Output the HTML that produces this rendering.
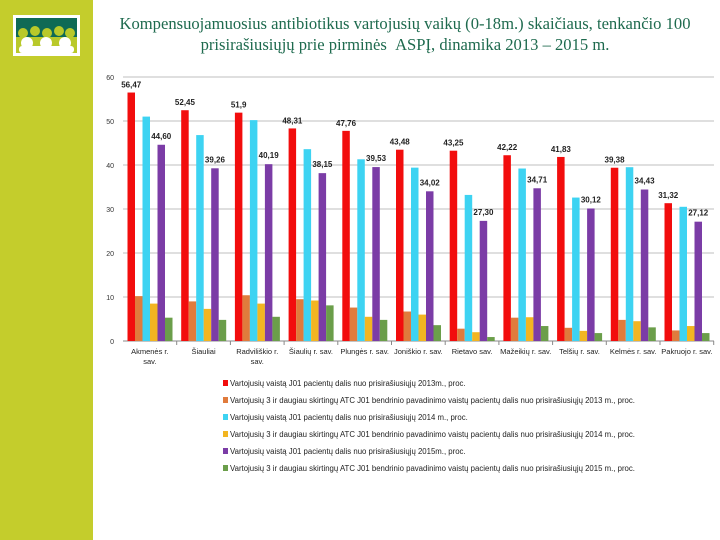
<!DOCTYPE html>
<html><head><meta charset="utf-8"><style>
body{margin:0;width:720px;height:540px;background:#fff;position:relative;overflow:hidden;font-family:"Liberation Sans",sans-serif}
#strip{position:absolute;left:0;top:0;width:93px;height:540px;background:#c4cd2c}
#logo{position:absolute;left:13px;top:15px;width:67px;height:41px;background:#fff}
#title{position:absolute;left:95px;top:13px;width:620px;text-align:center;font-family:"Liberation Serif",serif;font-size:16.6px;line-height:21px;color:#1e6a4e;white-space:nowrap}
</style></head><body>
<div id="strip"></div>
<div id="logo">
<svg width="67" height="41">
<rect x="3" y="3" width="61" height="35" fill="#0f6a55"/>
<g fill="#b9c92a"><circle cx="10" cy="18" r="5"/><circle cx="22" cy="16" r="5"/><circle cx="34" cy="18" r="5"/><circle cx="46" cy="16" r="5"/><circle cx="57" cy="18" r="5"/><rect x="3" y="22" width="61" height="16"/></g>
<g fill="#fff"><circle cx="14" cy="28" r="6"/><circle cx="33" cy="28" r="6"/><circle cx="52" cy="28" r="6"/><rect x="6" y="31" width="55" height="7" rx="3"/></g>
</svg></div>
<div id="title">Kompensuojamuosius antibiotikus vartojusių vaikų (0-18m.) skaičiaus, tenkančio 100<br>prisirašiusiųjų prie pirminės &nbsp;ASPĮ, dinamika 2013 – 2015 m.</div>
<svg id="chart" width="720" height="540" style="position:absolute;left:0;top:0"></svg>
<script>
const categories=["Akmenės r. sav.","Šiauliai","Radviliškio r. sav.","Šiaulių r. sav.","Plungės r. sav.","Joniškio r. sav.","Rietavo sav.","Mažeikių r. sav.","Telšių r. sav.","Kelmės r. sav.","Pakruojo r. sav."];
const catLabels=[["Akmenės r.","sav."],["Šiauliai"],["Radviliškio r.","sav."],["Šiaulių r. sav."],["Plungės r. sav."],["Joniškio r. sav."],["Rietavo sav."],["Mažeikių r. sav."],["Telšių r. sav."],["Kelmės r. sav."],["Pakruojo r. sav."]];
const red2013=[56.47,52.45,51.9,48.31,47.76,43.48,43.25,42.22,41.83,39.38,31.32];
const orange2013=[10.2,9,10.4,9.5,7.6,6.7,2.8,5.3,3,4.8,2.4];
const cyan2014=[51,46.8,50.2,43.6,41.3,39.4,33.2,39.2,32.6,39.5,30.5];
const yellow2014=[8.5,7.3,8.5,9.2,5.5,6,2,5.4,2.3,4.5,3.4];
const purple2015=[44.6,39.25,40.19,38.15,39.53,34.02,27.3,34.71,30.12,34.43,27.12];
const green2015=[5.3,4.8,5.5,8.1,4.8,3.6,0.9,3.4,1.8,3.1,1.8];
const redLabels=["56,47","52,45","51,9","48,31","47,76","43,48","43,25","42,22","41,83","39,38","31,32"];
const purpleLabels=["44,60","39,26","40,19","38,15","39,53","34,02","27,30","34,71","30,12","34,43","27,12"];
const yTicks=[0,10,20,30,40,50,60];
const legendTexts=["Vartojusių vaistą J01 pacientų dalis nuo prisirašiusiųjų 2013m., proc.","Vartojusių 3 ir daugiau skirtingų ATC J01 bendrinio pavadinimo vaistų pacientų dalis nuo prisirašiusiųjų 2013 m., proc.","Vartojusių vaistą J01 pacientų dalis nuo prisirašiusiųjų 2014 m., proc.","Vartojusių 3 ir daugiau skirtingų ATC J01 bendrinio pavadinimo vaistų pacientų dalis nuo prisirašiusiųjų 2014 m., proc.","Vartojusių vaistą J01 pacientų dalis nuo prisirašiusiųjų 2015m., proc.","Vartojusių 3 ir daugiau skirtingų ATC J01 bendrinio pavadinimo vaistų pacientų dalis nuo prisirašiusiųjų 2015 m., proc."];
const series=[red2013,orange2013,cyan2014,yellow2014,purple2015,green2015];
const colors=["#f20d0d","#e07b3c","#3dd3f2","#f2b521","#7b3ca6","#6b9e4a"];
const ns="http://www.w3.org/2000/svg",svg=document.getElementById('chart');
const x0=123,gw=53.7,y0=341,pxPer=4.4,bw=7.5,pad=4.5;
const Y=v=>y0-v*pxPer;
function mk(t,a,p){const e=document.createElementNS(ns,t);for(const k in a)e.setAttribute(k,a[k]);(p||svg).appendChild(e);return e;}
yTicks.forEach(t=>{
 if(t>0){const l=mk('line',{x1:x0,x2:714,y1:Y(t),y2:Y(t),stroke:'#aaa','stroke-width':0.7});
 
 }
 const tx=mk('text',{x:114,y:Y(t)+3,'font-size':7,'text-anchor':'end',fill:'#333'});tx.textContent=t;
 
 
});
const ax=mk('line',{x1:x0,x2:714,y1:y0,y2:y0,stroke:'#888','stroke-width':1});


categories.forEach((c,i)=>{
 const gx=x0+i*gw;
 const tk=mk('line',{x1:gx+gw,x2:gx+gw,y1:y0,y2:y0+4,stroke:'#888'});
 
 
 series.forEach((s,j)=>{
  const r=mk('rect',{x:gx+pad+j*bw,y:Y(s[i]),width:bw,height:s[i]*pxPer,fill:colors[j]});
  
  
 });
 const rl=mk('text',{x:gx+pad+bw/2,y:Y(red2013[i])-5,'font-size':8,'text-anchor':'middle',fill:'#222','font-weight':'bold'});rl.textContent=redLabels[i];
 
 
 const pl=mk('text',{x:gx+pad+4.5*bw,y:Y(purple2015[i])-6,'font-size':8,'text-anchor':'middle',fill:'#222','font-weight':'bold'});pl.textContent=purpleLabels[i];
 
 
 catLabels[i].forEach((ln,k)=>{
  const t=mk('text',{x:gx+gw/2,y:y0+13+k*10,'font-size':7.5,'text-anchor':'middle',fill:'#222'});t.textContent=ln;
  
  
 });
});
const ly=[385,402,419,436,453,470];
legendTexts.forEach((t,i)=>{
 const g=mk('g',{});
 
 
 mk('rect',{x:223,y:ly[i]-5,width:5,height:6,fill:colors[i]},g);
 const tx=mk('text',{x:230,y:ly[i]+1,'font-size':7.8,fill:'#222'},g);tx.textContent=t;
});
</script>
</body></html>
